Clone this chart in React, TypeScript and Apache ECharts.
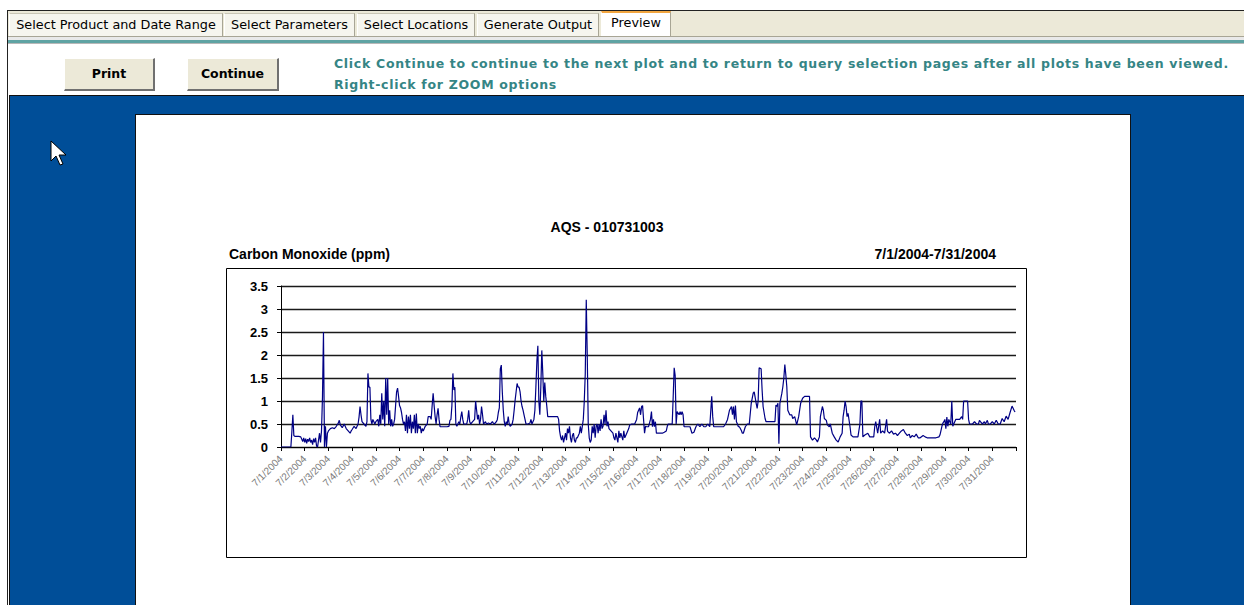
import React, { useEffect, useRef } from "react";
import * as echarts from "echarts";

// Hourly CO readings (hour since 7/1/2004 00:00, ppm)
const week1: [number, number][] = [
  [0,0],[10,0],[11,0.33],[12,0.7],[13,0.25],[14,0.23],[18,0.23],[20,0.22],[22,0.12],[23,0.2],
  [24,0.1],[25,0.18],[26,0.08],[27,0.17],[28,0.12],[29,0.2],[30,0.1],[31,0.15],[32,0.05],[33,0.18],[34,0.1],[35,0.2],[36,0.02],[37,0],[38,0.15],[39,0.3],[40,0.1],[41,0.35],[42,1.1],[43,2.5],[44,0],[45,0.45],[46,0],[47,0.3],
  [48,0.35],[50,0.4],[52,0.42],[54,0.4],[56,0.45],[58,0.52],[59,0.58],[60,0.48],[62,0.42],[64,0.5],[66,0.4],[68,0.35],[70,0.3],[71,0.35],
  [72,0.38],[74,0.45],[76,0.4],[78,0.5],[79,0.65],[80,0.88],[81,0.7],[82,0.55],[84,0.5],[86,0.45],[87,0.55],[88,1.6],[89,1.3],[90,1.3],[91,0.6],[92,0.5],[93,0.6],[94,0.55],[95,0.5],
  [96,0.55],[98,0.6],[99,0.45],[100,0.7],[101,0.5],[102,1.17],[103,0.6],[104,1.0],[105,0.45],[106,1.5],[107,0.7],[108,1.5],[109,0.5],[110,0.8],[111,0.45],[112,0.6],[113,0.45],[114,0.5],[115,0.6],[116,0.9],[117,1.2],[118,1.28],[119,1.1],
  [120,0.9],[121,0.85],[122,0.75],[123,0.6],[124,0.5],[125,0.55],[126,0.35],[127,0.7],[128,0.3],[129,0.66],[130,0.4],[131,0.7],[132,0.3],[133,0.55],[134,0.4],[135,0.7],[136,0.3],[137,0.73],[138,0.3],[139,0.5],[140,0.4],[141,0.45],[142,0.3],[143,0.4],
  [144,0.35],[146,0.45],[148,0.5],[149,0.66],[151,0.66],[152,0.6],[153,0.9],[154,1.17],[155,0.9],[156,0.66],[157,0.5],[158,0.7],[159,0.84],[160,0.6],[161,0.44],[165,0.44],[167,0.44],
];
const week2: [number, number][] = [
  [168,0.44],[170,0.45],[171,0.58],[172,0.6],[173,0.9],[174,1.6],[175,1.24],[176,1.3],[177,0.5],[178,0.45],[179,0.5],[180,0.55],[181,0.5],[182,0.65],[183,0.77],[184,0.6],[185,0.5],[186,0.5],[188,0.5],[189,0.6],[190,0.8],[191,0.55],
  [192,0.5],[194,0.55],[196,0.6],[197,1.0],[198,0.8],[199,0.6],[200,0.7],[201,0.5],[202,0.6],[203,0.88],[204,0.7],[205,0.5],[207,0.55],[208,0.5],[210,0.52],[212,0.5],[214,0.55],[215,0.52],
  [216,0.5],[218,0.55],[219,0.6],[220,0.75],[221,0.85],[222,1.7],[223,1.78],[224,1.2],[225,0.8],[226,0.55],[227,0.45],[228,0.55],[229,0.5],[230,0.66],[231,0.5],[232,0.45],[234,0.5],[235,0.6],[236,0.8],[237,1.02],[238,1.2],[239,1.38],
  [240,1.3],[241,1.3],[242,1.2],[243,1.0],[244,0.88],[245,0.8],[246,0.7],[247,0.6],[248,0.5],[250,0.5],[252,0.52],[253,0.6],[254,0.5],[256,0.6],[257,0.8],[258,1.3],[259,1.86],[260,2.2],[261,1.0],[262,0.7],[263,1.3],[264,2.1],[265,1.6],[266,1.0],[267,1.4],[268,1.1],[269,0.9],[270,0.66],
  [272,0.66],[276,0.66],[280,0.66],[281,0.6],[282,0.35],[283,0.22],[284,0.15],[285,0.25],[286,0.1],[287,0.2],[288,0.3],[289,0.15],[290,0.4],[291,0.3],[292,0.45],[293,0.2],[294,0.1],[295,0.25],
  [296,0.3],[297,0.15],[298,0.1],[299,0.2],[300,0.2],[301,0.25],[302,0.3],[303,0.45],[304,0.3],[305,0.45],[306,0.6],[307,1.0],[308,1.6],[309,3.2],[310,2.0],[311,0.5],[312,0.2],[313,0.1],[314,0.15],[315,0.45],[316,0.3],[317,0.5],[318,0.2],[319,0.45],
  [320,0.5],[321,0.3],[322,0.5],[323,0.35],[324,0.6],[325,0.4],[326,0.45],[327,0.7],[328,0.5],[329,0.8],[330,0.45],[331,0.55],[332,0.4],[334,0.35],
];
const week3: [number, number][] = [
  [336,0.3],[337,0.2],[338,0.15],[339,0.3],[340,0.2],[341,0.1],[342,0.35],[343,0.2],
  [344,0.3],[346,0.15],[347,0.35],[348,0.2],[350,0.3],[352,0.4],[353,0.48],[355,0.5],[358,0.5],[360,0.6],[361,0.75],[362,0.8],[363,0.85],[364,0.7],[365,0.88],[366,0.9],[367,0.6],
  [368,0.3],[369,0.45],[370,0.44],[372,0.44],[374,0.6],[375,0.77],[376,0.44],[377,0.6],[378,0.44],[379,0.55],[380,0.3],[382,0.3],[384,0.3],[386,0.3],[388,0.32],[390,0.35],[391,0.45],
  [392,0.5],[394,0.5],[396,0.5],[397,1.1],[398,1.72],[399,1.55],[400,0.5],[401,0.77],[403,0.7],[404,0.77],[405,0.7],[406,0.77],[407,0.7],[408,0.44],[414,0.44],
  [416,0.3],[418,0.32],[420,0.44],[422,0.5],[424,0.44],[426,0.5],[428,0.44],[430,0.44],[432,0.5],[434,0.44],[436,1.1],[437,0.66],[438,0.44],
  [440,0.44],[444,0.44],[448,0.44],[450,0.5],[452,0.6],[454,0.8],[456,0.88],[457,0.7],[458,0.88],[459,0.6],[460,0.9],[461,0.55],[462,0.5],[463,0.44],
  [464,0.44],[466,0.36],[467,0.3],[468,0.3],[470,0.44],[472,0.5],[474,0.5],[476,0.95],[478,1.17],[479,1.2],[481,0.95],[482,0.84],[483,1.0],[484,1.72],[486,1.7],[487,1.24],[488,0.88],[490,0.62],[491,0.55],
  [492,0.55],[496,0.55],[500,0.55],
];
const week4: [number, number][] = [
  [501,0.91],[502,0.88],[503,0.95],[504,0.07],[505,0.95],[507,1.17],[508,1.31],[509,1.5],[510,1.79],[511,1.57],[512,1.31],[513,0.8],[515,0.7],
  [517,0.7],[518,0.62],[520,0.66],[522,0.48],[524,0.66],[526,0.95],[528,1.06],[530,1.1],[535,1.1],[536,0.22],[538,0.15],[540,0.2],[542,0.15],[543,0.11],[545,0.22],[546,0.66],[548,0.88],[549,0.8],[550,0.62],[552,0.58],[553,0.48],[555,0.44],[556,0.5],[558,0.3],[560,0.22],[562,0.15],[564,0.11],[566,0.22],[568,0.3],[569,0.66],[570,0.8],[571,1.0],[572,0.88],[573,0.66],[574,0.73],[576,0.44],[577,0.26],[579,0.22],[582,0.22],[584,0.22],[586,0.5],[587,1.0],[588,1.0],[589,0.22],[591,0.26],[594,0.3],[596,0.22],[598,0.22],[600,0.22],[601,0.44],[602,0.55],[604,0.3],
  [606,0.6],[607,0.3],[609,0.35],[611,0.3],[613,0.6],[614,0.34],[616,0.3],[618,0.35],[620,0.28],[622,0.3],[624,0.25],[626,0.3],[628,0.35],[630,0.38],[632,0.3],[634,0.25],[636,0.28],[637,0.2],[639,0.25],[641,0.22],[643,0.28],[645,0.2],[647,0.2],[650,0.25],[652,0.22],[654,0.2],[657,0.2],[660,0.2],[663,0.2],[666,0.22],[667,0.26],
];
const week5: [number, number][] = [
  [668,0.35],[669,0.45],[670,0.52],[671,0.55],[672,0.6],[673,0.4],[674,0.65],[675,0.45],[676,0.6],[678,0.5],[679,1.0],[680,0.45],[681,0.5],[683,0.6],[685,0.6],[687,0.6],[689,0.66],[690,0.6],[691,1.0],[695,1.0],[696,0.6],[697,0.5],[700,0.5],[702,0.55],[704,0.5],[706,0.5],[707,0.58],[708,0.55],[710,0.5],[712,0.55],[713,0.5],[715,0.58],[716,0.5],[718,0.5],[720,0.55],[722,0.5],[724,0.58],[726,0.5],[728,0.5],[730,0.62],[732,0.55],[734,0.67],[736,0.6],[738,0.75],[740,0.89],[742,0.8],[743,0.76],
];

const dayLabels = [
  "7/1/2004","7/2/2004","7/3/2004","7/4/2004","7/5/2004","7/6/2004","7/7/2004","7/8/2004",
  "7/9/2004","7/10/2004","7/11/2004","7/12/2004","7/13/2004","7/14/2004","7/15/2004","7/16/2004",
  "7/17/2004","7/18/2004","7/19/2004","7/20/2004","7/21/2004","7/22/2004","7/23/2004","7/24/2004",
  "7/25/2004","7/26/2004","7/27/2004","7/28/2004","7/29/2004","7/30/2004","7/31/2004",
];

const chartTitle = "AQS - 010731003";
const paramLabel = "Carbon Monoxide (ppm)";
const dateRange = "7/1/2004-7/31/2004";
const tabs = ["Select Product and Date Range", "Select Parameters", "Select Locations", "Generate Output", "Preview"];
const tabX = [8, 224, 357, 477, 601, 673];

const Chart: React.FC = () => {
  const ref = useRef<HTMLDivElement>(null);
  useEffect(() => {
    if (!ref.current) return;
    const chart = echarts.init(ref.current, undefined, { renderer: "svg" });
    const data = [...week1, ...week2, ...week3, ...week4, ...week5];
    chart.setOption({
      animation: false,
      grid: { left: 145, top: 171, width: 735, height: 161, containLabel: false },
      xAxis: {
        type: "value",
        min: 0,
        max: 744,
        interval: 24,
        axisLine: { show: true, lineStyle: { color: "#000", width: 1 } },
        axisTick: { show: true, length: 4, lineStyle: { color: "#000" } },
        splitLine: { show: false },
        axisLabel: {
          rotate: 45,
          fontSize: 10,
          color: "#7a7a7a",
          fontFamily: "Liberation Sans, Arial, sans-serif",
          margin: 10,
          showMaxLabel: true,
          showMinLabel: true,
          formatter: (v: number) => dayLabels[Math.round(v / 24)] ?? "",
        },
      },
      yAxis: {
        type: "value",
        min: 0,
        max: 3.5,
        interval: 0.5,
        axisLine: { show: true, lineStyle: { color: "#000", width: 1 } },
        axisTick: { show: true, length: 4, lineStyle: { color: "#000" } },
        splitLine: { show: true, lineStyle: { color: "#1a1a1a", width: 1.3 } },
        axisLabel: {
          fontSize: 13,
          fontWeight: "bold",
          color: "#000",
          fontFamily: "Liberation Sans, Arial, sans-serif",
          margin: 13,
        },
      },
      series: [
        {
          type: "line",
          data,
          symbol: "none",
          silent: true,
          lineStyle: { color: "#000085", width: 1.2 },
        },
      ],
      graphic: [
        {
          type: "rect",
          shape: { x: 90.5, y: 153.5, width: 800, height: 289 },
          style: { fill: "none", stroke: "#000", lineWidth: 1 },
          silent: true,
        },
        {
          type: "text",
          x: 471,
          y: 112,
          style: {
            text: chartTitle,
            fontSize: 14,
            fontWeight: "bold",
            fill: "#000",
            fontFamily: "Liberation Sans, Arial, sans-serif",
            align: "center",
            verticalAlign: "middle",
          },
        },
        {
          type: "text",
          x: 93,
          y: 139,
          style: {
            text: paramLabel,
            fontSize: 14,
            fontWeight: "bold",
            fill: "#000",
            fontFamily: "Liberation Sans, Arial, sans-serif",
            align: "left",
            verticalAlign: "middle",
          },
        },
        {
          type: "text",
          x: 860,
          y: 139,
          style: {
            text: dateRange,
            fontSize: 14,
            fontWeight: "bold",
            fill: "#000",
            fontFamily: "Liberation Sans, Arial, sans-serif",
            align: "right",
            verticalAlign: "middle",
          },
        },
      ],
    });
    return () => chart.dispose();
  }, []);
  return <div ref={ref} style={{ width: 993, height: 490 }} />;
};

const uiFont = "'DejaVu Sans', Tahoma, sans-serif";

const App: React.FC = () => {
  return (
    <div
      style={{
        position: "fixed",
        left: 0,
        top: 0,
        width: 1244,
        height: 605,
        overflow: "hidden",
        background: "#fff",
        fontFamily: uiFont,
      }}
    >
      {/* tab bar */}
      <div style={{ position: "absolute", left: 8, top: 10, right: 0, height: 1, background: "#222" }} />
      <div style={{ position: "absolute", left: 8, top: 11, right: 0, height: 26, background: "#ECE9D8" }} />
      {tabs.map((t, i) => {
        const active = i === tabs.length - 1;
        return (
          <div
            key={t}
            style={{
              position: "absolute",
              left: tabX[i] + (i === 0 ? 1 : 0),
              top: active ? 11 : 13,
              width: tabX[i + 1] - tabX[i] - 2,
              height: active ? 25 : 23,
              background: active ? "#fff" : "#F6F5EE",
              borderLeft: "1px solid #fff",
              borderRight: "1px solid #A8A595",
              borderTop: active ? "2px solid #F2A640" : "1px solid #C9C6B6",
              boxSizing: "border-box",
              fontSize: 12.8,
              color: "#000",
              textAlign: "center",
              lineHeight: active ? "20px" : "21px",
              whiteSpace: "nowrap",
            }}
          >
            {t}
          </div>
        );
      })}
      <div style={{ position: "absolute", left: 8, top: 36, right: 0, height: 1, background: "#A8A595" }} />
      <div style={{ position: "absolute", left: 8, top: 37, right: 0, height: 3, background: "#E9E9E9" }} />
      <div style={{ position: "absolute", left: 8, top: 40, right: 0, height: 3, background: "#5FA3A3" }} />
      <div style={{ position: "absolute", left: 8, top: 43, right: 0, height: 1, background: "#B8B8B8" }} />

      {/* left frame line */}
      <div style={{ position: "absolute", left: 7, top: 10, width: 1, bottom: 0, background: "#222" }} />

      {/* buttons */}
      {[
        { label: "Print", x: 64, w: 91 },
        { label: "Continue", x: 187, w: 92 },
      ].map((b) => (
        <div
          key={b.label}
          style={{
            position: "absolute",
            left: b.x,
            top: 58,
            width: b.w,
            height: 33,
            boxSizing: "border-box",
            background: "#ECE9D8",
            borderTop: "1px solid #fff",
            borderLeft: "1px solid #fff",
            borderRight: "2px solid #707070",
            borderBottom: "2px solid #707070",
            fontWeight: "bold",
            fontSize: 12.5,
            textAlign: "center",
            lineHeight: "30px",
            color: "#000",
          }}
        >
          {b.label}
        </div>
      ))}

      {/* instructions */}
      <div
        style={{
          position: "absolute",
          left: 334,
          top: 53,
          color: "#358585",
          fontWeight: "bold",
          fontSize: 12.5,
          letterSpacing: "0.7px",
          lineHeight: "21px",
          whiteSpace: "nowrap",
        }}
      >
        <div>Click Continue to continue to the next plot and to return to query selection pages after all plots have been viewed.</div>
        <div>Right-click for ZOOM options</div>
      </div>

      {/* blue viewer area */}
      <div
        style={{
          position: "absolute",
          left: 9,
          top: 95,
          right: 0,
          bottom: 0,
          background: "#004E98",
          borderTop: "1px solid #111",
          borderLeft: "1px solid #111",
        }}
      />

      {/* mouse cursor */}
      <svg style={{ position: "absolute", left: 50, top: 140 }} width={20} height={30}>
        <polygon
          points="1,1 1,21 6,16 10,25 13,24 9,15 16,15"
          fill="#fff"
          stroke="#000"
          strokeWidth={1}
        />
      </svg>

      {/* white page */}
      <div
        style={{
          position: "absolute",
          left: 135,
          top: 114,
          width: 994,
          height: 500,
          background: "#fff",
          borderTop: "1px solid #111",
          borderLeft: "1px solid #111",
          borderRight: "1px solid #111",
        }}
      >
        <Chart />
      </div>
    </div>
  );
};

export default App;
